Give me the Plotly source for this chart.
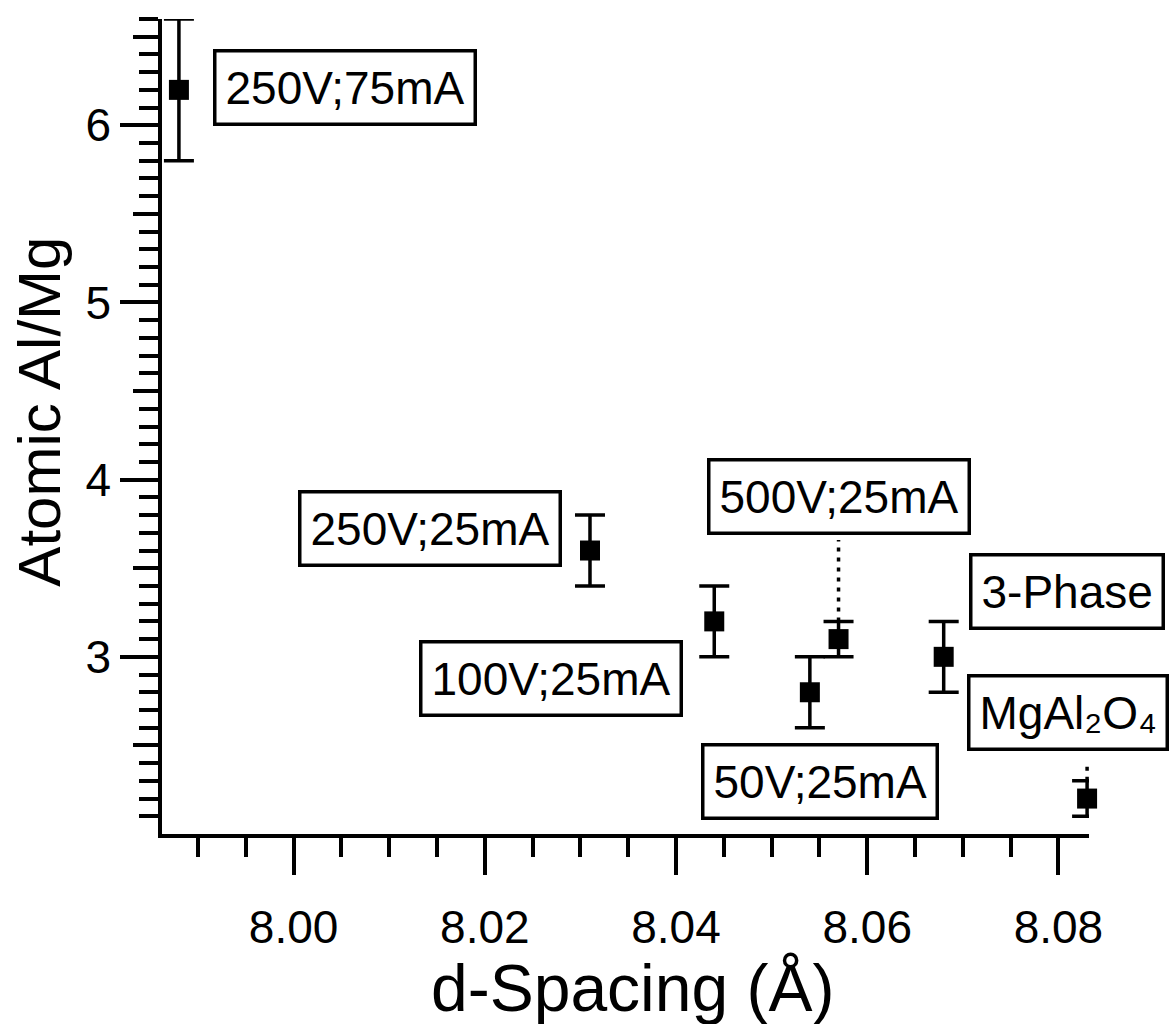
import plotly.graph_objects as go

# ---- data ----
d_spacing = [7.988, 8.031, 8.044, 8.054, 8.057, 8.068, 8.083]
al_mg = [6.2, 3.6, 3.2, 2.8, 3.1, 3.0, 2.2]
al_mg_err = [0.4, 0.2, 0.2, 0.2, 0.1, 0.2, 0.1]
labels = ["250V;75mA", "250V;25mA", "100V;25mA", "50V;25mA",
          "500V;25mA", "3-Phase", "MgAl₂O₄"]
x_tick_vals = [8.00, 8.02, 8.04, 8.06, 8.08]
y_tick_vals = [3, 4, 5, 6]
x_title = "d-Spacing (Å)"
y_title = "Atomic Al/Mg"

# ---- label placement (pixel offsets of the boxes from their points) ----
label_shift = [(166, 2), (-160, 22), (-163, -57), (10, -89),
               (0, 143), (123, 65), (-120, 86)]
label_anchor = ["center"] * 6 + ["left"]
# upper end (data units) of the dotted leader lines, None = no leader
leader_top = [None, None, None, None, 3.66, None, 2.41]

FONT = "Liberation Sans, Arial, sans-serif"
LW = 3.5

fig = go.Figure()

# dotted leader lines from the error-bar caps up to the label boxes
for x, y, e, top in zip(d_spacing, al_mg, al_mg_err, leader_top):
    if top is None:
        continue
    fig.add_trace(go.Scatter(
        x=[x, x], y=[y + e, top], mode="lines",
        line=dict(color="black", width=LW, dash="4px,6px"),
        hoverinfo="skip", showlegend=False, cliponaxis=False))

fig.add_trace(go.Scatter(
    x=d_spacing, y=al_mg, mode="markers",
    marker=dict(symbol="square", size=20, color="black"),
    error_y=dict(type="data", array=al_mg_err, visible=True,
                 color="black", thickness=LW, width=15),
    cliponaxis=False, showlegend=False))

# helper trace for the overlay axis carrying the mid-length ticks
fig.add_trace(go.Scatter(x=[None], y=[None], yaxis="y2",
                         showlegend=False, hoverinfo="skip"))

for x, y, txt, (dx, dy), anc in zip(d_spacing, al_mg, labels,
                                     label_shift, label_anchor):
    fig.add_annotation(
        x=x, y=y, xref="x", yref="y", text=txt, showarrow=False,
        xshift=dx, yshift=dy, xanchor=anc,
        font=dict(family=FONT, size=46, color="black"),
        bgcolor="white", bordercolor="black", borderwidth=LW, borderpad=9)

# axis titles
fig.add_annotation(x=0.508, y=-0.189, xref="paper", yref="paper",
                   text=x_title, showarrow=False, xanchor="center",
                   yanchor="middle", font=dict(family=FONT, size=66))
fig.add_annotation(x=-0.132, y=0.5178, xref="paper", yref="paper",
                   text=y_title, showarrow=False, textangle=-90,
                   xanchor="center", yanchor="middle",
                   font=dict(family=FONT, size=60))

y_range = [2.0, 6.6]
minor_y = [round(2.1 + 0.1 * i, 1) for i in range(46)]

fig.update_layout(
    width=1175, height=1024,
    margin=dict(l=162, r=86, t=19, b=190, autoexpand=False),
    paper_bgcolor="white", plot_bgcolor="white",
    font=dict(family=FONT, color="black", size=45),
    xaxis=dict(
        range=[7.98623, 8.0832],
        tickmode="array", tickvals=x_tick_vals,
        ticktext=[f"{v:.2f}" for v in x_tick_vals],
        ticks="outside", ticklen=37, tickwidth=LW, tickcolor="black",
        ticklabelstandoff=13,
        minor=dict(tickmode="linear", tick0=8.0, dtick=0.005,
                   ticks="outside", ticklen=19, tickwidth=LW,
                   tickcolor="black", showgrid=False),
        showline=True, linewidth=LW, linecolor="black",
        showgrid=False, zeroline=False,
        tickfont=dict(family=FONT, size=46),
        automargin=False),
    yaxis=dict(
        range=y_range,
        tickmode="array", tickvals=y_tick_vals,
        ticks="outside", ticklen=38, tickwidth=LW, tickcolor="black",
        minor=dict(tickmode="array", tickvals=minor_y,
                   ticks="outside", ticklen=19, tickwidth=LW,
                   tickcolor="black", showgrid=False),
        showline=True, linewidth=LW, linecolor="black",
        showgrid=False, zeroline=False,
        tickfont=dict(family=FONT, size=46),
        automargin=False),
    yaxis2=dict(
        overlaying="y", anchor="x", side="left", range=y_range,
        tickmode="array", tickvals=[2.5, 3.5, 4.5, 5.5, 6.5],
        ticks="outside", ticklen=28, tickwidth=LW, tickcolor="black",
        showticklabels=False, showline=False, showgrid=False,
        zeroline=False),
)

fig.write_html("out.html")
